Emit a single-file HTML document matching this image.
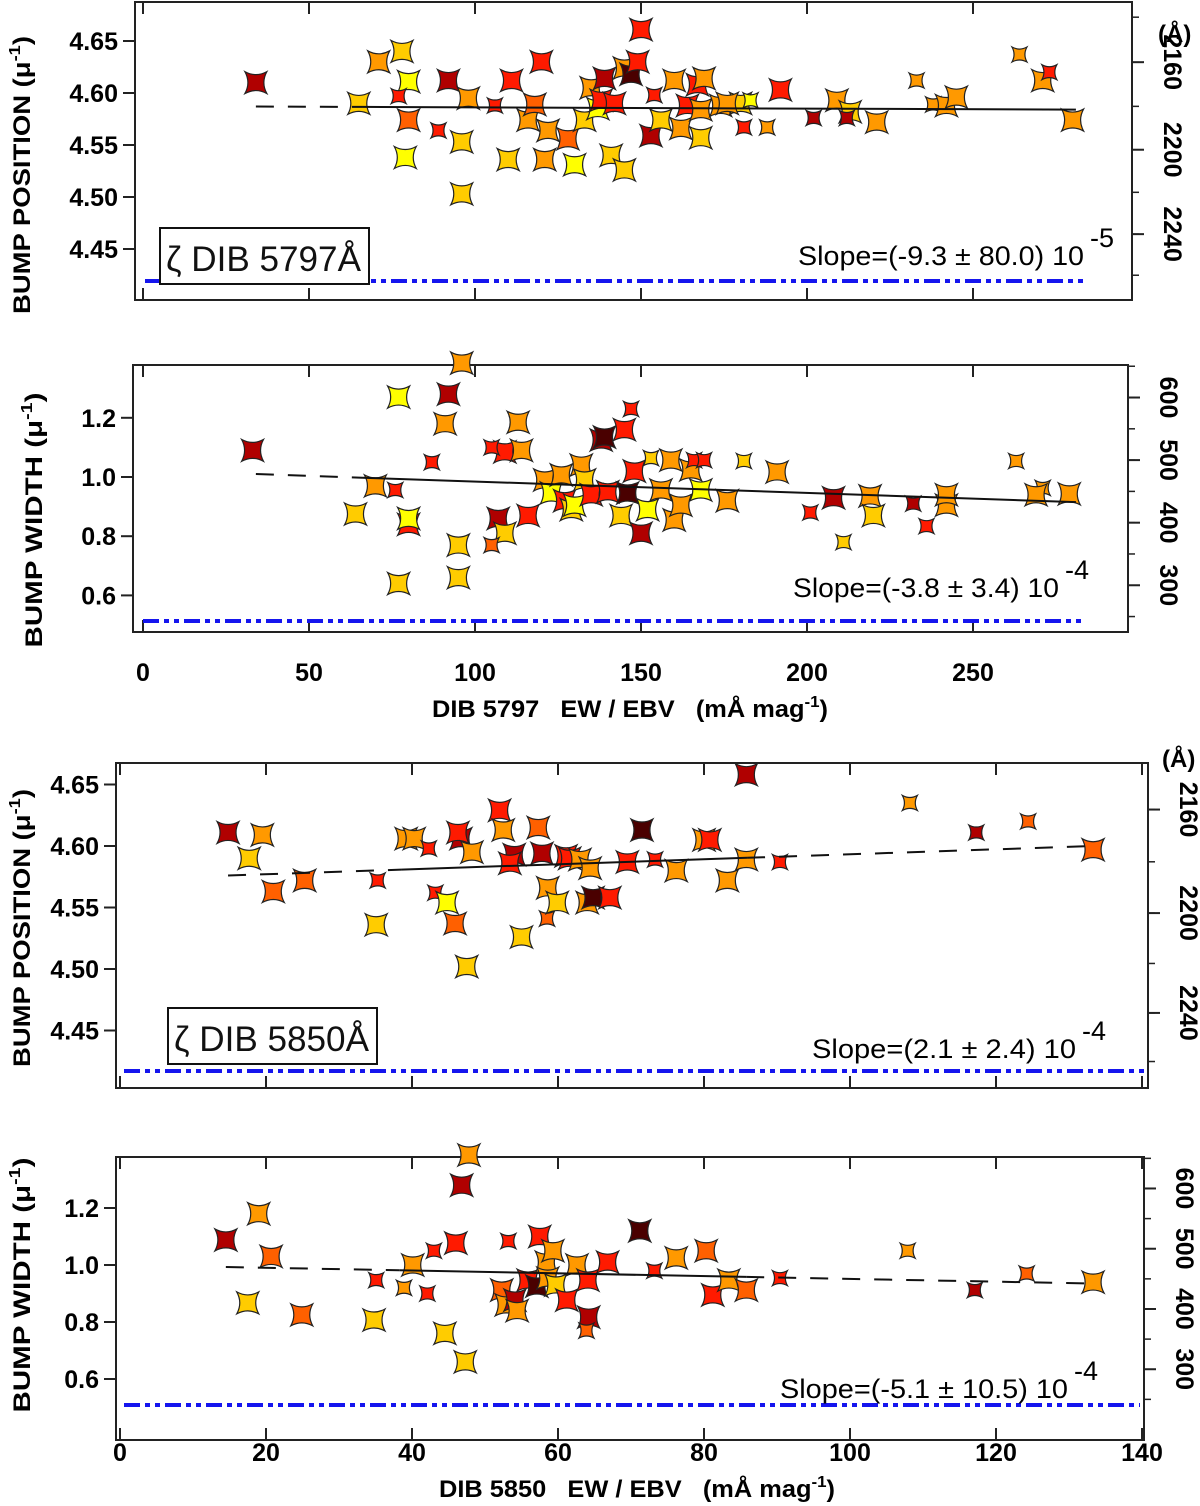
<!DOCTYPE html>
<html><head><meta charset="utf-8">
<style>
html,body{margin:0;padding:0;background:#fff;}
svg{display:block;font-family:"Liberation Sans",sans-serif;}
.tk{font-weight:bold;font-size:25px;fill:#000;}
.ttl{font-weight:bold;font-size:24px;fill:#000;}
.slope{font-size:27px;fill:#000;}
</style></head>
<body>
<svg id="chart" width="1200" height="1506" viewBox="0 0 1200 1506" xmlns="http://www.w3.org/2000/svg"></svg>
<script>
// colour index: 0 yellow,1 gold,2 orange,3 orange-red,4 red,5 dark red,6 very dark
const palette=["#ffff00","#ffcc00","#ff9900","#ff6000","#ff1a00","#b00000","#4a0000"];

const p1X=[34,71,78,80,77,80,79,89,96,96,92,98,65,106,110,111,116,118,120,121,122,128,130,133,135,137,138,139,141,145,142,145,147,149,150,153,154,156,160,162,164,167,168,168,169,174,180,183,176,181,188,192,202,209,213,212,233,238,242,245,221,264,271,273,280];
const p1Y=[4.610,4.630,4.640,4.611,4.597,4.574,4.538,4.564,4.553,4.503,4.612,4.595,4.590,4.588,4.536,4.612,4.574,4.589,4.630,4.536,4.564,4.556,4.531,4.574,4.605,4.585,4.593,4.614,4.540,4.526,4.590,4.624,4.618,4.630,4.661,4.559,4.598,4.574,4.612,4.566,4.588,4.608,4.584,4.557,4.614,4.588,4.590,4.593,4.590,4.567,4.567,4.603,4.576,4.593,4.582,4.576,4.612,4.589,4.588,4.596,4.572,4.637,4.612,4.620,4.574];
const p1C=[5,2,1,0,4,3,0,4,1,1,5,2,1,4,1,4,2,3,4,2,2,3,0,1,2,0,4,5,1,1,4,2,6,4,4,5,4,1,2,2,4,4,2,1,2,2,1,0,2,4,2,4,5,2,1,5,2,2,2,2,2,2,2,4,2];
const p1S=[1,1,1,1,0,1,1,0,1,1,1,1,1,0,1,1,1,1,1,1,1,1,1,1,1,1,1,1,1,1,1,1,1,1,1,1,0,1,1,1,1,1,1,1,1,1,1,0,1,0,0,1,0,1,1,0,0,0,1,1,1,0,1,0,1];

const p2X=[33,70,64,77,76,77,80,80,87,91,92,95,95,96,107,109,109,105,105,113,114,116,121,123,126,127,129,130,132,133,135,138,139,140,144,145,146,147,148,150,152,153,156,159,160,162,165,166,168,169,176,181,191,201,208,211,219,220,232,236,242,242,263,271,269,279];
const p2Y=[1.09,0.97,0.875,1.27,0.956,0.64,0.84,0.86,1.05,1.18,1.28,0.77,0.66,1.385,0.86,0.81,1.085,0.77,1.10,1.185,1.09,0.87,0.99,0.946,1.007,0.92,0.89,0.905,1.04,0.99,0.94,1.125,1.135,0.95,0.87,1.16,0.946,1.23,1.02,0.81,0.89,1.064,0.956,1.057,0.855,0.905,1.024,1.057,0.956,1.057,0.92,1.054,1.017,0.88,0.93,0.78,0.936,0.87,0.91,0.834,0.905,0.94,1.054,0.963,0.94,0.943];
const p2C=[5,2,1,0,4,1,4,0,4,2,5,1,1,2,5,1,4,3,4,2,2,4,2,0,2,4,1,0,2,1,4,5,6,4,1,4,6,4,4,5,0,1,2,2,2,2,2,4,0,4,2,1,2,4,5,1,2,1,5,4,2,2,2,2,2,2];
const p2S=[1,1,1,1,0,1,1,1,0,1,1,1,1,1,1,1,1,0,0,1,1,1,1,1,1,1,1,1,1,1,1,1,1,1,1,1,1,0,1,1,1,0,1,1,1,1,1,0,1,0,1,0,1,0,1,0,1,1,0,0,1,1,0,0,1,1];

const p3X=[14.8,19.5,17.7,21,25.3,35.3,35.1,39.2,40.3,42.3,43.2,44.8,45.9,46.7,46.3,48.2,47.5,52,52.5,54,53.4,55,57.3,57.8,58.6,58.5,59.9,61.1,61.6,63,64.4,64,64.8,67.1,69.5,71.5,73.3,76.2,80,80.8,83.2,85.8,85.8,90.4,108.2,117.3,124.4,133.3];
const p3Y=[4.611,4.609,4.590,4.563,4.572,4.572,4.536,4.606,4.606,4.598,4.562,4.554,4.537,4.606,4.611,4.595,4.502,4.629,4.613,4.593,4.586,4.526,4.615,4.594,4.566,4.541,4.554,4.592,4.590,4.589,4.582,4.554,4.558,4.558,4.587,4.613,4.589,4.580,4.605,4.605,4.572,4.658,4.589,4.587,4.635,4.611,4.620,4.597];
const p3C=[5,2,1,3,3,4,1,2,2,4,4,0,3,5,4,2,1,4,2,5,4,1,3,5,2,3,1,4,4,2,2,2,6,4,4,6,4,2,2,4,2,5,2,4,2,5,3,3];
const p3S=[1,1,1,1,1,0,1,1,1,0,0,1,1,1,1,1,1,1,1,1,1,1,1,1,1,0,1,1,1,1,1,1,1,1,1,1,0,1,1,1,1,1,1,0,0,0,0,1];

const p4X=[14.5,19,17.5,20.7,24.9,35.1,34.8,38.9,40.1,42.1,43,44.5,46,47.3,46.8,47.8,52.3,52.9,53.2,54.1,54.4,55.9,57.1,57.5,58.4,58.6,59.3,59.7,61.2,62.6,64.1,64.2,63.9,66.8,71.2,73.2,76.2,80.3,81.2,83.4,85.8,90.4,107.9,117.1,124.2,133.3];
const p4Y=[1.088,1.18,0.867,1.03,0.825,0.947,0.807,0.92,1.0,0.90,1.05,0.76,1.077,0.66,1.28,1.386,0.912,0.86,1.084,0.877,0.84,0.947,0.926,1.10,1.01,0.954,1.05,0.93,0.877,1.0,0.947,0.817,0.77,1.01,1.12,0.98,1.025,1.05,0.895,0.947,0.912,0.954,1.05,0.912,0.97,0.94];
const p4C=[5,2,1,3,3,4,1,2,2,4,4,1,4,1,5,2,3,2,4,5,2,4,6,4,2,2,2,1,4,2,4,5,3,4,6,4,2,3,4,2,3,4,2,5,3,2];
const p4S=[1,1,1,1,1,0,1,0,1,0,0,1,1,1,1,1,1,1,0,1,1,1,1,1,1,1,1,1,1,1,1,1,0,1,1,0,1,1,1,1,1,0,0,0,0,1];

const fitX1=[34,281], fitY1=[4.587,4.584];
const fitX2=[34,281], fitY2=[1.01,0.915];
const fitX3=[14.8,133.3], fitY3=[4.576,4.600];
const fitX4=[14.5,133.3], fitY4=[0.993,0.935];

const xTicksA=[0,50,100,150,200,250];
const xTicksB=[0,20,40,60,80,100,120,140];
const posTicks=[4.45,4.50,4.55,4.60,4.65];
const widTicks=[0.6,0.8,1.0,1.2];
const angTicks=[2160,2200,2240];
const fwTicks=[300,400,500,600];

const NS="http://www.w3.org/2000/svg";
const svg=document.getElementById('chart');
function el(tag,attrs,parent){const e=document.createElementNS(NS,tag);for(const k in attrs)e.setAttribute(k,attrs[k]);(parent||svg).appendChild(e);return e;}

function star(g,cx,cy,r,fill){
  const d=`M${cx-r},${cy-r} Q${cx},${cy-0.45*r} ${cx+r},${cy-r} Q${cx+0.45*r},${cy} ${cx+r},${cy+r} Q${cx},${cy+0.45*r} ${cx-r},${cy+r} Q${cx-0.45*r},${cy} ${cx-r},${cy-r} Z`;
  const p=el('path',{d:d,fill:fill,stroke:'#222','stroke-width':1.2},g);
  
  
}

function panel(o){
  const g=el('g',{});
  
  
  const sx=v=>o.x0+o.xs*v, sy=v=>o.y0-(v-o.yRef)*o.ys;
  const f=el('rect',{x:o.L,y:o.T,width:o.R-o.L,height:o.B-o.T,fill:'none',stroke:'#222','stroke-width':2},g);
  
  o.xt.forEach(t=>{const x=sx(t);
    el('line',{x1:x,x2:x,y1:o.T,y2:o.T+12,stroke:'#222','stroke-width':2},g);
    el('line',{x1:x,x2:x,y1:o.B,y2:o.B-12,stroke:'#222','stroke-width':2},g);
    if(o.xlab){const tx=el('text',{x:x,y:o.xlabY,'text-anchor':'middle',class:'tk'},g);tx.textContent=t;
      }
  });
  o.yt.forEach(t=>{const y=sy(t);
    el('line',{x1:o.L-12,x2:o.L,y1:y,y2:y,stroke:'#222','stroke-width':2},g);
    const tx=el('text',{x:o.L-17,y:y+9,'text-anchor':'end',class:'tk'},g);tx.textContent=o.fmt(t);
    
  });
  o.rt.forEach(t=>{const y=sy(o.conv(t));
    el('line',{x1:o.R,x2:o.R+12,y1:y,y2:y,stroke:'#222','stroke-width':2},g);
    const tx=el('text',{x:o.R+32,y:y,'text-anchor':'middle',class:'tk',transform:`rotate(90 ${o.R+32} ${y})`},g);tx.textContent=t;
    
  });
  o.rminor.forEach(t=>{const y=sy(o.conv(t));if(y>o.T&&y<o.B)el('line',{x1:o.R,x2:o.R+7,y1:y,y2:y,stroke:'#222','stroke-width':1.5},g);});
  const bl=el('line',{x1:o.blX1,x2:o.blX2,y1:o.blY,y2:o.blY,stroke:'#1515ee','stroke-width':4,'stroke-dasharray':'16 5 5 5 5 5'},g);
  
  o.X.forEach((_,i)=>star(g,sx(o.X[i]),sy(o.Y[i]),o.S[i]?11:7.5,palette[o.C[i]]));
  const xa=sx(o.fx[0]),ya=sy(o.fy[0]),xb=sx(o.fx[1]),yb=sy(o.fy[1]);
  const lerp=(t)=>[xa+(xb-xa)*t,ya+(yb-ya)*t];
  const [s1,s2]=o.solid;
  [[0,s1,true],[s1,s2,false],[s2,1,true]].forEach(([a,b,dash])=>{if(b<=a)return;const A=lerp(a),B=lerp(b);
    const l=el('line',{x1:A[0],y1:A[1],x2:B[0],y2:B[1],stroke:'#111','stroke-width':2,'stroke-dasharray':dash?'18 14':'none'},g);
    });
  const st=el('text',{x:o.slX,y:o.slY,class:'slope',textLength:o.expDx-6,lengthAdjust:'spacingAndGlyphs'},g);st.textContent=o.slope;
  
  const se=el('text',{x:o.slX+o.expDx,y:o.slY-18,class:'slope'},g);se.textContent=o.exp;
  
  const yt=el('text',{x:o.ytX,y:o.ytY,'text-anchor':'middle',class:'ttl',transform:`rotate(-90 ${o.ytX} ${o.ytY})`,textLength:o.ytLen,lengthAdjust:'spacingAndGlyphs'},g);
  
  yt.innerHTML=o.ytitle+' (μ<tspan dy="-10" font-size="16">-1</tspan><tspan dy="10">)</tspan>';
  if(o.box){const b=el('rect',{x:o.box[0],y:o.box[1],width:o.box[2],height:o.box[3],fill:'#fff',stroke:'#111','stroke-width':2},g);
    
    const bt=el('text',{x:o.box[0]+6,y:o.box[1]+43,'font-size':35,fill:'#111',textLength:o.box[2]-14,lengthAdjust:'spacingAndGlyphs'},g);bt.textContent=o.boxText;
    }
  return g;
}
const toMu=l=>10000/l;
const fwConv=a=>a/473;
const minorA=[];for(let a=2140;a<=2280;a+=20)minorA.push(a);
const minorW=[];for(let a=250;a<=650;a+=50)minorW.push(a);

panel({name:'panel-position-5797',L:135,R:1132,T:2,B:300,x0:143,xs:3.32,y0:93,yRef:4.60,ys:1040,
  xt:xTicksA,xlab:false,yt:posTicks,fmt:v=>v.toFixed(2),rt:angTicks,conv:toMu,rminor:minorA,
  blX1:145,blX2:1088,blY:281,X:p1X,Y:p1Y,C:p1C,S:p1S,fx:fitX1,fy:fitY1,solid:[0.13,1],
  slope:'Slope=(-9.3 ± 80.0) 10',exp:'-5',slX:798,slY:265,expDx:292,ytX:30,ytY:175,ytLen:278,ytitle:'BUMP POSITION',
  box:[160,228,209,56],boxText:'ζ DIB 5797Å'});
panel({name:'panel-width-5797',L:133,R:1128,T:365,B:632,x0:143,xs:3.32,y0:477,yRef:1.0,ys:296,
  xt:xTicksA,xlab:true,xlabY:681,yt:widTicks,fmt:v=>v.toFixed(1),rt:fwTicks,conv:fwConv,rminor:minorW,
  blX1:143,blX2:1085,blY:621,X:p2X,Y:p2Y,C:p2C,S:p2S,fx:fitX2,fy:fitY2,solid:[0.13,1],
  slope:'Slope=(-3.8 ± 3.4) 10',exp:'-4',slX:793,slY:597,expDx:272,ytX:42,ytY:520,ytLen:255,ytitle:'BUMP WIDTH '});
panel({name:'panel-position-5850',L:116,R:1148,T:763,B:1088,x0:120,xs:7.3,y0:846,yRef:4.60,ys:1230,
  xt:xTicksB,xlab:false,yt:posTicks,fmt:v=>v.toFixed(2),rt:angTicks,conv:toMu,rminor:minorA,
  blX1:124,blX2:1144,blY:1071,X:p3X,Y:p3Y,C:p3C,S:p3S,fx:fitX3,fy:fitY3,solid:[0.2,0.6],
  slope:'Slope=(2.1 ± 2.4) 10',exp:'-4',slX:812,slY:1058,expDx:270,ytX:30,ytY:928,ytLen:278,ytitle:'BUMP POSITION',
  box:[168,1008,209,56],boxText:'ζ DIB 5850Å'});
panel({name:'panel-width-5850',L:116,R:1144,T:1157,B:1440,x0:120,xs:7.3,y0:1265,yRef:1.0,ys:285,
  xt:xTicksB,xlab:true,xlabY:1461,yt:widTicks,fmt:v=>v.toFixed(1),rt:fwTicks,conv:fwConv,rminor:minorW,
  blX1:124,blX2:1140,blY:1405,X:p4X,Y:p4Y,C:p4C,S:p4S,fx:fitX4,fy:fitY4,solid:[0.2,0.6],
  slope:'Slope=(-5.1 ± 10.5) 10',exp:'-4',slX:780,slY:1398,expDx:294,ytX:30,ytY:1285,ytLen:255,ytitle:'BUMP WIDTH '});

function txt(x,y,s,name,cls,anchor,len){const a={x:x,y:y,class:cls,'text-anchor':anchor||'start'};if(len){a.textLength=len;a.lengthAdjust='spacingAndGlyphs';}
  const t=el('text',a);t.innerHTML=s;
  return t;}
txt(1158,42,'(Å)','right-axis-unit','ttl');
txt(1162,767,'(Å)','right-axis-unit-2','ttl');
txt(630,717,'DIB 5797&#160;&#160;&#160;EW / EBV&#160;&#160;&#160;(mÅ mag<tspan dy="-10" font-size="16">-1</tspan><tspan dy="10">)</tspan>','x-axis-title','ttl','middle',396);
txt(637,1497,'DIB 5850&#160;&#160;&#160;EW / EBV&#160;&#160;&#160;(mÅ mag<tspan dy="-10" font-size="16">-1</tspan><tspan dy="10">)</tspan>','x-axis-title-2','ttl','middle',396);
</script>
</body></html>
